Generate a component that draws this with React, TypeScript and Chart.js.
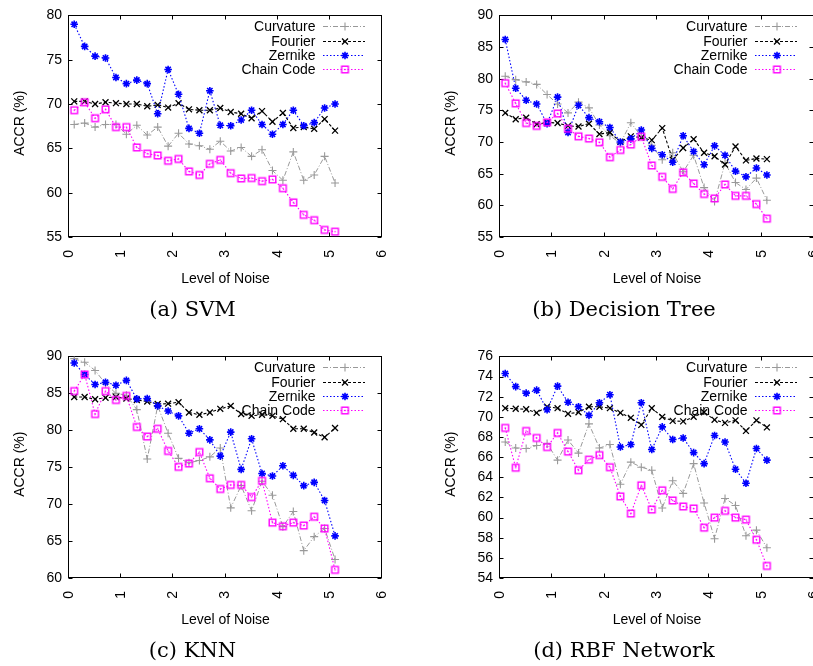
import React, { useEffect, useRef } from 'react';
import { Chart, registerables } from 'chart.js';

Chart.register(...registerables);

// ---------- data ----------
const noiseLevels = [0.1, 0.3, 0.5, 0.7, 0.9, 1.1, 1.3, 1.5, 1.7, 1.9, 2.1, 2.3, 2.5, 2.7, 2.9, 3.1, 3.3, 3.5, 3.7, 3.9, 4.1, 4.3, 4.5, 4.7, 4.9, 5.1];
const xTickValues = [0, 1, 2, 3, 4, 5, 6];
const seriesNames = ['Curvature', 'Fourier', 'Zernike', 'Chain Code'];

const svmCurvature = [67.7, 67.85, 67.4, 67.7, 67.7, 66.6, 67.6, 66.5, 67.4, 65.25, 66.7, 65.5, 65.3, 64.9, 65.8, 64.7, 65.1, 64.1, 64.85, 62.5, 61.4, 64.6, 61.4, 62.0, 64.1, 61.1];
const svmFourier = [70.3, 70.3, 70.0, 70.2, 70.1, 70.0, 70.0, 69.75, 69.9, 69.6, 70.1, 69.4, 69.3, 69.3, 69.55, 69.1, 68.9, 68.4, 69.2, 68.0, 69.0, 67.3, 67.4, 67.2, 68.3, 67.0];
const svmZernike = [79.0, 76.5, 75.4, 75.2, 73.0, 72.3, 72.7, 72.3, 68.9, 73.9, 71.1, 67.25, 66.7, 71.5, 67.6, 67.55, 68.2, 69.3, 67.7, 66.6, 67.7, 69.3, 67.55, 67.9, 69.55, 70.0];
const svmChainCode = [69.3, 70.2, 68.4, 69.4, 67.4, 67.4, 65.1, 64.4, 64.2, 63.6, 63.8, 62.4, 62.0, 63.25, 63.7, 62.2, 61.6, 61.65, 61.3, 61.5, 60.5, 58.9, 57.5, 56.9, 55.8, 55.6];
const svmYTicks = [55, 60, 65, 70, 75, 80];

const treeCurvature = [80.4, 79.85, 79.5, 79.1, 77.5, 76.0, 74.6, 76.3, 75.4, 72.7, 71.0, 69.8, 73.05, 70.9, 69.5, 67.2, 68.3, 65.3, 67.9, 62.8, 60.6, 66.7, 63.6, 62.5, 64.3, 60.8];
const treeFourier = [74.6, 73.6, 73.85, 72.8, 73.1, 73.0, 72.55, 72.45, 72.9, 71.25, 71.5, 70.05, 70.9, 70.7, 70.3, 72.2, 67.2, 69.05, 70.45, 68.3, 67.75, 66.45, 69.3, 67.1, 67.4, 67.3];
const treeZernike = [86.2, 78.5, 76.6, 76.0, 72.9, 77.1, 71.5, 75.8, 73.85, 73.2, 72.3, 70.0, 70.5, 71.9, 69.0, 68.0, 66.8, 71.0, 68.5, 66.4, 69.4, 67.9, 65.4, 64.5, 65.9, 64.8];
const treeChainCode = [79.3, 76.1, 73.0, 72.55, 73.1, 74.5, 72.1, 70.9, 70.55, 69.95, 67.6, 68.75, 69.6, 70.85, 66.3, 64.5, 62.6, 65.2, 63.45, 61.8, 61.1, 63.3, 61.5, 61.5, 60.2, 57.9];
const treeYTicks = [55, 60, 65, 70, 75, 80, 85, 90];

const knnCurvature = [89.7, 89.2, 88.1, 86.3, 85.0, 84.75, 82.8, 76.1, 83.3, 79.6, 76.2, 75.6, 75.9, 76.4, 77.6, 69.5, 72.5, 69.1, 73.1, 71.2, 66.95, 69.0, 63.7, 65.6, 66.7, 62.5];
const knnFourier = [84.5, 84.5, 84.2, 84.4, 84.5, 84.3, 84.1, 83.9, 83.55, 83.6, 83.8, 82.4, 82.1, 82.4, 82.9, 83.3, 82.2, 81.95, 82.1, 81.95, 81.5, 80.2, 80.2, 79.7, 79.05, 80.3];
const knnZernike = [89.1, 87.55, 86.2, 86.5, 86.1, 86.75, 84.25, 84.3, 83.3, 82.6, 81.95, 79.6, 80.2, 78.7, 76.5, 79.75, 74.7, 78.85, 74.15, 73.8, 75.2, 73.9, 72.5, 72.95, 70.5, 65.7];
const knnChainCode = [85.3, 87.55, 82.2, 85.3, 84.1, 84.65, 80.45, 79.15, 80.2, 77.2, 75.05, 75.5, 77.05, 73.5, 72.05, 72.6, 72.6, 70.95, 73.15, 67.5, 67.0, 67.5, 67.1, 68.3, 66.7, 61.1];
const knnYTicks = [60, 65, 70, 75, 80, 85, 90];

const rbfCurvature = [67.5, 66.9, 66.85, 67.15, 67.35, 65.7, 67.7, 66.4, 69.3, 66.9, 67.25, 63.3, 65.5, 65.0, 64.7, 60.95, 63.65, 62.4, 65.35, 61.45, 57.9, 61.9, 61.2, 58.2, 58.75, 57.0];
const rbfFourier = [70.86, 70.8, 70.75, 70.4, 71.0, 70.86, 70.3, 70.45, 71.0, 71.0, 70.86, 70.4, 69.9, 69.2, 70.86, 70.0, 69.6, 69.55, 70.0, 70.45, 69.7, 69.4, 69.65, 68.6, 69.65, 68.95];
const rbfZernike = [74.3, 73.0, 72.35, 72.65, 70.7, 73.05, 71.45, 71.0, 70.15, 71.4, 72.2, 67.0, 67.25, 71.4, 66.75, 69.0, 67.75, 67.9, 66.45, 65.35, 68.15, 67.5, 64.8, 63.4, 66.85, 65.7];
const rbfChainCode = [68.9, 64.95, 68.6, 67.9, 67.0, 68.4, 66.55, 64.7, 65.75, 66.2, 65.0, 62.1, 60.4, 63.2, 60.8, 62.7, 61.7, 61.1, 60.9, 59.0, 60.0, 60.67, 60.0, 59.8, 57.8, 55.2];
const rbfYTicks = [54, 56, 58, 60, 62, 64, 66, 68, 70, 72, 74, 76];

const xTitle = 'Level of Noise';
const yTitle = 'ACCR (%)';

// ---------- styles ----------
const SANS = '"Liberation Sans", Arial, Helvetica, sans-serif';
const SERIF = '"DejaVu Serif", "Liberation Serif", serif';

type Panel = {
  caption: string;
  left: number; // canvas left
  top: number; // canvas top
  plotWidth: number;
  yTicks: number[];
  series: number[][];
};

const panels: Panel[] = [
  { caption: '(a) SVM', left: 0, top: 0, plotWidth: 313, yTicks: svmYTicks, series: [svmCurvature, svmFourier, svmZernike, svmChainCode] },
  { caption: '(b) Decision Tree', left: 431, top: 0, plotWidth: 314, yTicks: treeYTicks, series: [treeCurvature, treeFourier, treeZernike, treeChainCode] },
  { caption: '(c) KNN', left: 0, top: 341, plotWidth: 313, yTicks: knnYTicks, series: [knnCurvature, knnFourier, knnZernike, knnChainCode] },
  { caption: '(d) RBF Network', left: 431, top: 341, plotWidth: 314, yTicks: rbfYTicks, series: [rbfCurvature, rbfFourier, rbfZernike, rbfChainCode] },
];

const CANVAS_W = 420;
const CANVAS_H = 325;
const Y_AXIS_W = 69;
const PLOT_TOP = 13;
const PLOT_H = 224;
const X_AXIS_H = 30;

let squareImg: HTMLCanvasElement | null = null;
function getSquare(): HTMLCanvasElement {
  if (squareImg) return squareImg;
  const c = document.createElement('canvas');
  c.width = 11;
  c.height = 11;
  const g = c.getContext('2d')!;
  g.strokeStyle = '#ff00ff';
  g.lineWidth = 1.4;
  g.strokeRect(2.2, 2.2, 6.6, 6.6);
  g.fillStyle = '#ff00ff';
  g.fillRect(4.8, 4.8, 1.4, 1.4);
  squareImg = c;
  return c;
}

type SeriesStyle = { color: string; dash: number[]; lw: number; point: string; radius: number; pw: number };
const seriesStyles: SeriesStyle[] = [
  { color: '#999999', dash: [5, 2, 1, 2], lw: 1, point: 'cross', radius: 4, pw: 1.1 },
  { color: '#000000', dash: [3, 2], lw: 1.1, point: 'crossRot', radius: 4.2, pw: 1.3 },
  { color: '#0000ff', dash: [1.5, 2], lw: 1.1, point: 'star', radius: 3.8, pw: 1.6 },
  { color: '#ff00ff', dash: [1.5, 2], lw: 1.1, point: 'square', radius: 5, pw: 1 },
];

function drawMarker(ctx: CanvasRenderingContext2D, st: SeriesStyle, x: number, y: number) {
  ctx.save();
  ctx.setLineDash([]);
  ctx.strokeStyle = st.color;
  ctx.lineWidth = st.pw;
  const r = st.radius;
  const d = r * Math.SQRT1_2;
  ctx.beginPath();
  if (st.point === 'cross' || st.point === 'star') {
    ctx.moveTo(x - r, y); ctx.lineTo(x + r, y);
    ctx.moveTo(x, y - r); ctx.lineTo(x, y + r);
  }
  if (st.point === 'crossRot' || st.point === 'star') {
    ctx.moveTo(x - d, y - d); ctx.lineTo(x + d, y + d);
    ctx.moveTo(x - d, y + d); ctx.lineTo(x + d, y - d);
  }
  ctx.stroke();
  if (st.point === 'square') {
    const img = getSquare();
    ctx.drawImage(img, x - img.width / 2, y - img.height / 2);
  }
  ctx.restore();
}

function PanelChart({ panel }: { panel: Panel }) {
  const ref = useRef<HTMLCanvasElement>(null);
  useEffect(() => {
    if (!ref.current) return;
    const yTicks = panel.yTicks;
    const yMin = yTicks[0];
    const yMax = yTicks[yTicks.length - 1];
    const yStep = yTicks[1] - yTicks[0];
    const padRight = CANVAS_W - Y_AXIS_W - panel.plotWidth;
    const padBottom = CANVAS_H - PLOT_TOP - PLOT_H - X_AXIS_H;

    const datasets = panel.series.map((values, i) => {
      const st = seriesStyles[i];
      return {
        label: seriesNames[i],
        data: noiseLevels.map((x, j) => ({ x, y: values[j] })),
        borderColor: st.color,
        backgroundColor: st.color,
        borderWidth: st.lw,
        borderDash: st.dash,
        pointStyle: st.point === 'square' ? getSquare() : st.point,
        pointRadius: st.radius,
        pointBorderWidth: st.pw,
        pointBorderColor: st.color,
        pointBackgroundColor: 'rgba(0,0,0,0)',
        fill: false,
        tension: 0,
        order: 4 - i,
      };
    });

    const decor = {
      id: 'gnuplotDecor',
      beforeDatasetsDraw(chart: any) {
        const { ctx, chartArea, scales } = chart;
        const { left, top, right, bottom } = chartArea;
        ctx.save();
        ctx.setLineDash([]);
        ctx.strokeStyle = '#000';
        ctx.lineWidth = 1;
        const L = Math.round(left) - 0.5;
        const R = Math.round(right) - 0.5;
        const T = Math.round(top) + 0.5;
        const B = Math.round(bottom) - 0.5;
        ctx.strokeRect(L, T, R - L, B - T);
        ctx.beginPath();
        xTickValues.forEach((v) => {
          const px = Math.round(scales.x.getPixelForValue(v)) - 0.5;
          ctx.moveTo(px, B); ctx.lineTo(px, B - 4);
          ctx.moveTo(px, T); ctx.lineTo(px, T + 4);
        });
        yTicks.forEach((v) => {
          const py = Math.round(scales.y.getPixelForValue(v)) + 0.5;
          ctx.moveTo(L, py); ctx.lineTo(L + 4, py);
          ctx.moveTo(R, py); ctx.lineTo(R - 4, py);
        });
        ctx.stroke();

        // legend
        ctx.font = `14px ${SANS}`;
        ctx.fillStyle = '#000';
        ctx.textAlign = 'right';
        ctx.textBaseline = 'alphabetic';
        chart.data.datasets.forEach((ds: any, i: number) => {
          const st = seriesStyles[i];
          const y = top + 11 + i * 14.1;
          ctx.fillText(ds.label, right - 66.5, y + 5);
          ctx.save();
          ctx.strokeStyle = st.color;
          ctx.lineWidth = st.lw;
          ctx.setLineDash(st.dash);
          ctx.beginPath();
          ctx.moveTo(right - 59, Math.round(y) + 0.5);
          ctx.lineTo(right - 17, Math.round(y) + 0.5);
          ctx.stroke();
          ctx.restore();
          drawMarker(ctx, st, right - 37, Math.round(y) + 0.5);
        });

        // axis titles
        ctx.textAlign = 'center';
        ctx.fillText(xTitle, (left + right) / 2, bottom + 46);
        ctx.save();
        ctx.translate(left - 45, (top + bottom) / 2 - 3);
        ctx.rotate(-Math.PI / 2);
        ctx.fillText(yTitle, 0, 0);
        ctx.restore();

        // caption
        ctx.font = `21px ${SERIF}`;
        ctx.fillText(panel.caption, (left + right) / 2 - 33, 316);
        ctx.restore();
      },
    };

    const chart = new Chart(ref.current, {
      type: 'line',
      data: { datasets: datasets as any },
      options: {
        animation: false,
        responsive: false,
        devicePixelRatio: 1,
        events: [],
        layout: { padding: { left: 0, top: PLOT_TOP, right: padRight, bottom: padBottom } },
        plugins: { legend: { display: false }, tooltip: { enabled: false }, title: { display: false } },
        scales: {
          x: {
            type: 'linear',
            min: 0,
            max: 6,
            grid: { display: false, drawTicks: false },
            border: { display: false },
            ticks: {
              stepSize: 1,
              autoSkip: false,
              minRotation: 90,
              maxRotation: 90,
              padding: 13,
              color: '#000',
              font: { family: SANS, size: 14 },
            },
            afterFit: (s: any) => { s.height = X_AXIS_H; },
          },
          y: {
            type: 'linear',
            min: yMin,
            max: yMax,
            grid: { display: false, drawTicks: false },
            border: { display: false },
            ticks: {
              stepSize: yStep,
              autoSkip: false,
              padding: 7,
              color: '#000',
              font: { family: SANS, size: 14 },
            },
            afterFit: (s: any) => { s.width = Y_AXIS_W; },
          },
        },
      } as any,
      plugins: [decor],
    });
    return () => chart.destroy();
  }, [panel]);

  return (
    <canvas
      ref={ref}
      width={CANVAS_W}
      height={CANVAS_H}
      style={{ position: 'absolute', left: panel.left, top: panel.top, width: CANVAS_W, height: CANVAS_H }}
    />
  );
}

export default function App() {
  return (
    <div style={{ position: 'absolute', left: 0, top: 0, width: 813, height: 666, overflow: 'hidden', background: '#fff' }}>
      {panels.map((p, i) => (
        <PanelChart key={i} panel={p} />
      ))}
    </div>
  );
}
